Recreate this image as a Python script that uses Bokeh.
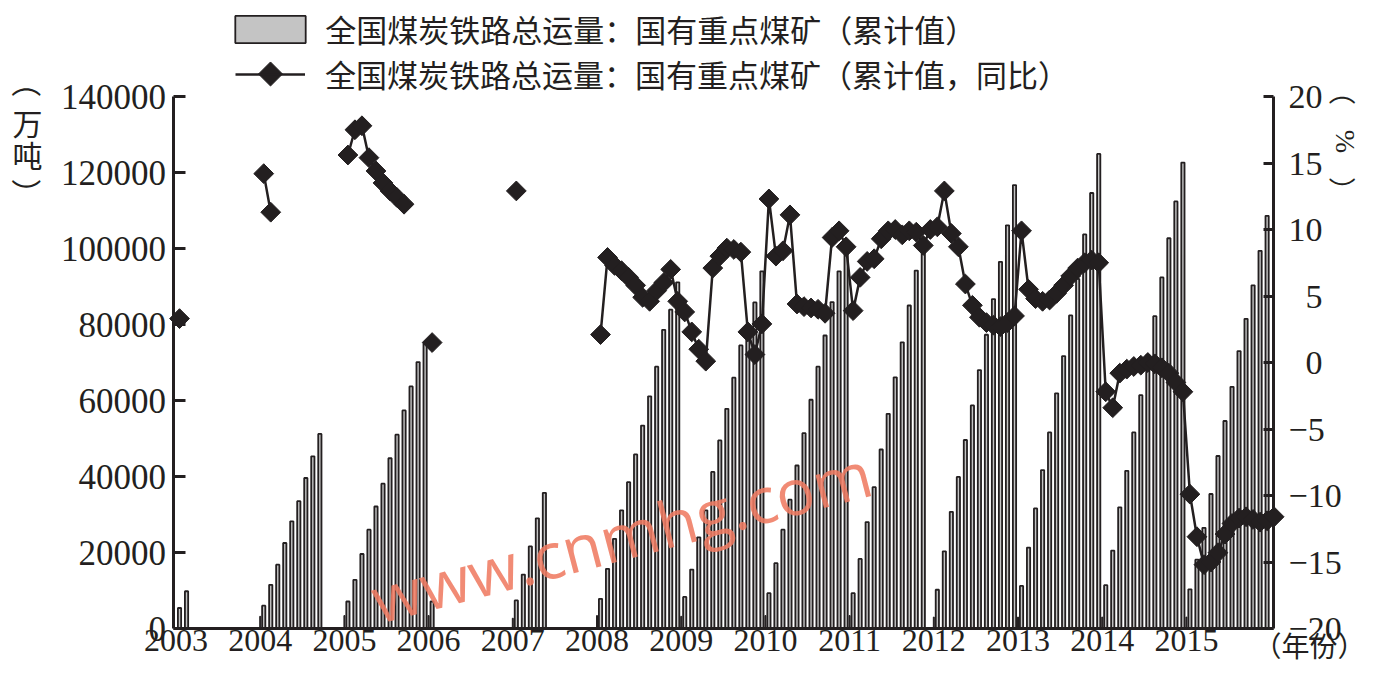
import math
from bokeh.plotting import figure
from bokeh.models import (Range1d, LinearAxis, FixedTicker, NumeralTickFormatter,
                          Legend, LegendItem, Label)
from bokeh.embed import file_html
from bokeh.resources import INLINE

# ---------------- data ----------------
years = ["2003", "2004", "2005", "2006", "2007", "2008", "2009",
         "2010", "2011", "2012", "2013", "2014", "2015"]

N = None
# cumulative rail volume (万吨), Jan..Dec of each year
bar_2003 = [5400, 9800, N, N, N, N, N, N, N, N, N, N]
bar_2004 = [6000, 11500, 16800, 22500, 28200, 33500, 39600, 45300, 51200, N, N, N]
bar_2005 = [7100, 12800, 19600, 26000, 32100, 38100, 44800, 51000, 57400, 63700, 70100, 75000]
bar_2006 = [7100, N, N, N, N, N, N, N, N, N, N, N]
bar_2007 = [7400, 14200, 21600, 29000, 35700, N, N, N, N, N, N, N]
bar_2008 = [7800, 15700, 23600, 31100, 38500, 45800, 53400, 61100, 68900, 78600, 83900, 91100]
bar_2009 = [8300, 15500, 24000, 31100, 41200, 49500, 57800, 66000, 74500, 80000, 85800, 94000]
bar_2010 = [9300, 17200, 26000, 33900, 42900, 51400, 60200, 68900, 77100, 85900, 94000, 102000]
bar_2011 = [9300, 18300, 28000, 37200, 47100, 56500, 66100, 75300, 85000, 94200, 101000, N]
bar_2012 = [10200, 20300, 30700, 39900, 49600, 58700, 68000, 77300, 86700, 96500, 106100, 116700]
bar_2013 = [11200, 21300, 31600, 41700, 51600, 61900, 71700, 82400, 92000, 103700, 114600, 124900]
bar_2014 = [11400, 20500, 31900, 41500, 51600, 61400, 72000, 82200, 92400, 102700, 112400, 122600]
bar_2015 = [10300, 18100, 26500, 35400, 45400, 54600, 63600, 73000, 81500, 90300, 99400, 108600]

# narrow bar drawn at the start of each year
small_years = ["2004", "2005", "2006", "2007", "2008", "2009", "2010",
               "2011", "2012", "2013", "2014", "2015"]
small_vals = [3200, 3400, 3400, 2700, 3400, 3200, 3400, 3400, 3000, 3000, 3000, 3000]

# year-on-year growth (%), Jan..Dec
yoy_2003 = [3.3, N, N, N, N, N, N, N, N, N, N, N]
yoy_2004 = [14.2, 11.3, N, N, N, N, N, N, N, N, N, N]
yoy_2005 = [15.6, 17.5, 17.8, 15.4, 14.4, 13.5, 12.9, 12.4, 11.9, N, N, N]
yoy_2006 = [1.5, N, N, N, N, N, N, N, N, N, N, N]
yoy_2007 = [12.9, N, N, N, N, N, N, N, N, N, N, N]
yoy_2008 = [2.1, 7.9, 7.3, 6.9, 6.4, 5.8, 4.9, 4.6, 5.4, 6.0, 7.0, 4.6]
yoy_2009 = [3.8, 2.3, 1.0, 0.1, 7.1, 8.0, 8.6, 8.5, 8.3, 2.3, 0.6, 2.9]
yoy_2010 = [12.3, 8.0, 8.4, 11.1, 4.4, 4.2, 4.1, 4.0, 3.7, 9.4, 9.9, 8.7]
yoy_2011 = [3.9, 6.4, 7.6, 7.8, 9.3, 9.9, 10.0, 9.6, 9.9, 9.8, 8.8, 10.0]
yoy_2012 = [10.2, 12.9, 9.7, 8.7, 5.9, 4.3, 3.4, 3.0, 2.8, 2.7, 3.0, 3.5]
yoy_2013 = [9.9, 5.5, 4.8, 4.6, 4.7, 5.2, 5.8, 6.5, 7.1, 7.5, 7.7, 7.5]
yoy_2014 = [-2.2, -3.4, -0.8, -0.5, -0.3, -0.2, 0.0, -0.1, -0.4, -0.8, -1.5, -2.2]
yoy_2015 = [-9.9, -13.1, -15.2, -15.0, -14.3, -12.9, -12.1, -11.7, -11.6, -11.8, -12.0, -11.9]
yoy_2016 = [-11.6]

bar_years = [bar_2003, bar_2004, bar_2005, bar_2006, bar_2007, bar_2008, bar_2009,
             bar_2010, bar_2011, bar_2012, bar_2013, bar_2014, bar_2015]
yoy_years = [yoy_2003, yoy_2004, yoy_2005, yoy_2006, yoy_2007, yoy_2008, yoy_2009,
             yoy_2010, yoy_2011, yoy_2012, yoy_2013, yoy_2014, yoy_2015, yoy_2016]

left_ticks = [0, 20000, 40000, 60000, 80000, 100000, 120000, 140000]
right_ticks = [-20, -15, -10, -5, 0, 5, 10, 15, 20]

legend_bar = "全国煤炭铁路总运量：国有重点煤矿（累计值）"
legend_line = "全国煤炭铁路总运量：国有重点煤矿（累计值，同比）"

# ---------------- build series (x in months since Jan 2003) ----------------
bx, btop = [], []
for i, vals in enumerate(bar_years):
    for m, v in enumerate(vals):
        if v is not None:
            bx.append(12 * i + m + 0.5)
            btop.append(v)

sx_small = [12 * years.index(y) for y in small_years]

lx, ly = [], []
for i, vals in enumerate(yoy_years):
    for m, v in enumerate(vals):
        lx.append(12 * i + m + 0.5)
        ly.append(float("nan") if v is None else v)

# ---------------- geometry ----------------
W, H = 1366, 665
AX_L, AX_R, AX_T, AX_B = 172.5, 1273.0, 96.0, 628.0     # axis positions (px)
XMIN, XMAX = -0.43, 156.41                               # months at the two y axes
SX = (AX_R - AX_L) / (XMAX - XMIN)                       # px per month
SY = (AX_B - AX_T) / 140000.0                            # px per 万吨
SP = (AX_B - AX_T) / 40.0                                # px per %

x_range = Range1d(XMIN - AX_L / SX, XMIN + (W - AX_L) / SX)
y_range = Range1d(-(H - AX_B) / SY, AX_B / SY)
pct_range = Range1d(-20 - (H - AX_B) / SP, -20 + AX_B / SP)

def ux(px):
    return XMIN + (px - AX_L) / SX

def vy(py):
    return (AX_B - py) / SY

INK = "#231f20"
num_font = "Liberation Serif"
cjk = "Noto Sans CJK SC"

p = figure(width=W, height=H, x_range=x_range, y_range=y_range,
           x_axis_type=None, y_axis_type=None,
           output_backend="svg", toolbar_location=None,
           min_border=0, min_border_left=0, min_border_right=0,
           min_border_top=0, min_border_bottom=0)
p.outline_line_color = None
p.background_fill_color = "white"
p.border_fill_color = "white"
p.extra_y_ranges = {"pct": pct_range}

bars = p.vbar(x=bx, top=btop, width=0.46, bottom=0, fill_color="#c4c4c4",
              line_color=INK, line_width=1.8)
p.vbar(x=sx_small, top=small_vals, width=0.14, bottom=0, fill_color=INK,
       line_color=INK, line_width=1.0)

ln = p.line(lx, ly, y_range_name="pct", line_color=INK, line_width=2.5)
mk = p.scatter(lx, ly, y_range_name="pct", marker="square", angle=math.pi / 4,
               size=14, fill_color=INK, line_color=INK, line_width=1)

# ---------------- axes (fixed at the frame positions) ----------------
def style_axis(a, size):
    a.axis_line_width = 3
    a.axis_line_color = INK
    a.major_tick_line_width = 3
    a.major_tick_line_color = INK
    a.minor_tick_line_color = None
    a.major_tick_out = 0
    a.major_label_text_font = num_font
    a.major_label_text_font_size = size
    a.major_label_text_color = INK

xa = LinearAxis(fixed_location=0, bounds=(XMIN, XMAX),
                ticker=FixedTicker(ticks=[12 * i for i in range(len(years))]))
style_axis(xa, "32px")
xa.major_label_overrides = {12 * i: y for i, y in enumerate(years)}
xa.major_tick_in = 0
xa.major_label_standoff = 1
p.add_layout(xa, "below")

ya = LinearAxis(fixed_location=XMIN, bounds=(0, 140000), ticker=FixedTicker(ticks=left_ticks))
style_axis(ya, "35px")
ya.formatter = NumeralTickFormatter(format="0")
ya.major_tick_in = 12
ya.major_label_standoff = 7
p.add_layout(ya, "left")

ra = LinearAxis(y_range_name="pct", fixed_location=XMAX, bounds=(-20, 20),
                ticker=FixedTicker(ticks=right_ticks))
style_axis(ra, "34px")
def pct_label(t):
    if t < 0:
        return "\u2212" + str(-t)
    if t < 10:
        return "\u2007" + str(t)
    return str(t)
ra.major_label_overrides = {t: pct_label(t) for t in right_ticks}
ra.major_tick_in = 10
ra.major_label_standoff = 15
p.add_layout(ra, "right")

# ---------------- legends (top) ----------------
leg1 = Legend(items=[LegendItem(label=legend_bar, renderers=[bars])],
              location=(226.2, H - 51), glyph_width=88, glyph_height=34,
              label_standoff=11, padding=0, margin=0, spacing=0, label_height=44,
              border_line_color=None, background_fill_alpha=0,
              label_text_font=cjk, label_text_font_size="31px", label_text_color=INK)
leg2 = Legend(items=[LegendItem(label=legend_line, renderers=[ln])],
              location=(235, H - 96), glyph_width=70, glyph_height=38,
              label_standoff=20, padding=0, margin=0, spacing=0, label_height=44,
              border_line_color=None, background_fill_alpha=0,
              label_text_font=cjk, label_text_font_size="31px", label_text_color=INK)
p.add_layout(leg1)
p.add_layout(leg2)
# diamond swatch of the line legend (legend markers are never rotated)
p.scatter([ux(270)], [vy(73.5)], marker="square", angle=math.pi / 4, size=17,
          fill_color=INK, line_color=INK, line_width=1)

# ---------------- free texts ----------------
def add_text(txt, px, py, size="30px", angle=0.0, font=cjk, color=INK, align="center",
             baseline="middle", alpha=1.0):
    p.add_layout(Label(x=ux(px), y=vy(py), text=txt, text_font=font, text_font_size=size,
                       text_color=color, text_align=align, text_baseline=baseline,
                       angle=angle, text_alpha=alpha))

# vertical unit labels (parentheses turned for vertical writing)
add_text("（", 27, 82, angle=-math.pi / 2)
add_text("万", 27, 121)
add_text("吨", 27, 153)
add_text("）", 27, 193, angle=-math.pi / 2)

add_text("（", 1343, 91, size="27px", angle=-math.pi / 2)
add_text("%", 1345, 141, size="28px", angle=-math.pi / 2, font=num_font)
add_text("）", 1343, 190, size="27px", angle=-math.pi / 2)

add_text("（年份）", 1365, 664, size="28px", align="right", baseline="bottom")

# watermark
add_text("www.cnmhg.com", 372, 600, size="64px", angle=0.255, font="Open Sans",
         color="#ef7b62", align="left", baseline="alphabetic", alpha=0.88)

open("out.html", "w").write(file_html(p, INLINE))
